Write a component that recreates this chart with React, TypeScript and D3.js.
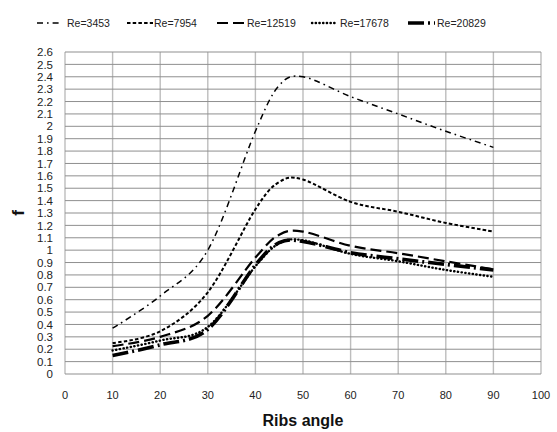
import React from "react";
import * as d3 from "d3";

const angles = [10, 20, 30, 40, 45, 50, 60, 70, 80, 90];
const re3453 = [0.37, 0.63, 1.0, 1.96, 2.33, 2.4, 2.24, 2.1, 1.96, 1.83];
const re7954 = [0.25, 0.345, 0.66, 1.33, 1.55, 1.57, 1.39, 1.31, 1.22, 1.15];
const re12519 = [0.225, 0.3, 0.47, 0.94, 1.125, 1.15, 1.035, 0.975, 0.91, 0.845];
const re17678 = [0.19, 0.27, 0.38, 0.87, 1.055, 1.08, 0.97, 0.91, 0.84, 0.785];
const re20829 = [0.15, 0.235, 0.36, 0.88, 1.06, 1.07, 0.98, 0.93, 0.885, 0.84];

const seriesNames = ["Re=3453", "Re=7954", "Re=12519", "Re=17678", "Re=20829"];
const seriesValues = [re3453, re7954, re12519, re17678, re20829];

const xTicks = [0, 10, 20, 30, 40, 50, 60, 70, 80, 90, 100];
const yTicks = d3.range(0, 27).map((i) => +(i / 10).toFixed(1));

const styles = [
  { w: 1.5, dash: "6,4,1.6,4", cap: "butt" },
  { w: 2, dash: "3.5,2.2", cap: "butt" },
  { w: 2.2, dash: "11,5", cap: "butt" },
  { w: 2.4, dash: "0.3,3.4", cap: "round" },
  { w: 3.6, dash: "16,4,2,4", cap: "butt" },
];

const legendPos = [
  { sx: 37, ex: 60, tx: 67 },
  { sx: 127, ex: 153, tx: 154 },
  { sx: 217, ex: 245, tx: 247 },
  { sx: 312, ex: 337, tx: 340 },
  { sx: 408, ex: 435, tx: 437 },
];

const font = "'Liberation Sans', Arial, sans-serif";

export default function App() {
  const x = d3.scaleLinear().domain([0, 100]).range([65, 541]);
  const y = d3.scaleLinear().domain([0, 2.6]).range([374, 52]);
  const line = d3
    .line<number>()
    .x((_, i) => x(angles[i]))
    .y((d) => y(d))
    .curve(d3.curveCardinal.tension(0));

  return (
    <svg
      width={557}
      height={432}
      style={{ position: "absolute", left: 0, top: 0, background: "#fff" }}
      fontFamily={font}
    >
      <rect x={0} y={0} width={557} height={432} fill="#fff" />
      {xTicks.map((t) => (
        <line
          key={"vx" + t}
          x1={x(t)}
          x2={x(t)}
          y1={y(0)}
          y2={y(2.6)}
          stroke="#bdbdbd"
          strokeWidth={1.4}
        />
      ))}
      {yTicks.map((t) => (
        <line
          key={"hy" + t}
          x1={x(0)}
          x2={x(100)}
          y1={y(t)}
          y2={y(t)}
          stroke="#8f8f8f"
          strokeWidth={1}
        />
      ))}
      {yTicks.map((t) => (
        <text
          key={"yl" + t}
          x={53}
          y={y(t)}
          dy="0.36em"
          textAnchor="end"
          fontSize={11.5}
          fill="#222"
        >
          {String(t)}
        </text>
      ))}
      {xTicks.map((t) => (
        <text
          key={"xl" + t}
          x={x(t)}
          y={399}
          textAnchor="middle"
          fontSize={11}
          fill="#222"
        >
          {String(t)}
        </text>
      ))}
      <text
        x={x(50)}
        y={426}
        textAnchor="middle"
        fontSize={16}
        fontWeight="bold"
        fill="#111"
      >
        Ribs angle
      </text>
      <text
        transform={`translate(24,${y(1.3)}) rotate(-90)`}
        textAnchor="middle"
        fontSize={17}
        fontWeight="bold"
        fill="#111"
      >
        f
      </text>
      {seriesValues.map((vals, i) => (
        <path
          key={"s" + i}
          d={line(vals) || ""}
          fill="none"
          stroke="#000"
          strokeWidth={styles[i].w}
          strokeDasharray={styles[i].dash}
          strokeLinecap={styles[i].cap as any}
        />
      ))}
      {seriesNames.map((n, i) => (
        <g key={"lg" + i}>
          <line
            x1={legendPos[i].sx}
            x2={legendPos[i].ex}
            y1={23}
            y2={23}
            stroke="#000"
            strokeWidth={styles[i].w}
            strokeDasharray={styles[i].dash}
            strokeLinecap={styles[i].cap as any}
          />
          <text x={legendPos[i].tx} y={23} dy="0.36em" fontSize={10.5} fill="#222">
            {n}
          </text>
        </g>
      ))}
    </svg>
  );
}
